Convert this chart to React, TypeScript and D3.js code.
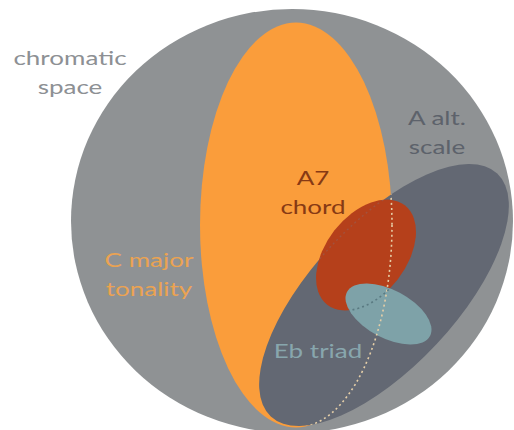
import React from "react";
import * as d3 from "d3";

// sets drawn as ellipses, in diagram units (0..100 across)
const setNames = ["chromatic space", "C major tonality", "A alt. scale", "A7 chord", "Eb triad"];
const setCx = [58.4, 59.2, 76.8, 73.2, 77.7];
const setCy = [44.2, 45.0, 59.0, 51.0, 62.8];
const setRx = [44.2, 19.2, 33.2, 12.6, 9.4];
const setRy = [42.4, 40.5, 14.4, 8.0, 4.8];
const setAngle = [0, 0, -47, -52, 28];

const labelLines = [["chromatic", "space"], ["C major", "tonality"], ["A alt.", "scale"], ["A7", "chord"], ["Eb triad"]];

const width = 514, height = 430;
const fills = ["#8f9294", "#fa9d3b", "#636873", "#b5401b", "#7ea2a8"];
const textColors = ["#8d9094", "#eba352", "#5d626b", "#873a14", "#88a6ad"];
// label anchor (center x, first baseline y) in pixels
const labelPos = [[70, 65], [149, 267], [437, 125], [313, 185], [318, 358]];

const App = () => {
  const x = d3.scaleLinear().domain([0, 100]).range([0, 500]);
  const y = d3.scaleLinear().domain([0, 100]).range([0, 500]);
  const r = (v: number) => x(v) - x(0);

  const ell = (i: number, extra: any = {}) => (
    <ellipse
      cx={0}
      cy={0}
      rx={r(setRx[i])}
      ry={r(setRy[i])}
      transform={`translate(${x(setCx[i])},${y(setCy[i])}) rotate(${setAngle[i]})`}
      {...extra}
    />
  );

  return (
    <svg width={width} height={height} style={{ position: "absolute", left: 0, top: 0, background: "#fff" }}>
      <defs>
        <clipPath id="clipDark">{ell(2)}</clipPath>
        <clipPath id="clipRed">{ell(3)}</clipPath>
        <clipPath id="clipBlue">{ell(4)}</clipPath>
      </defs>
      {setNames.map((d, i) => ell(i, { key: d, fill: fills[i] }))}
      {/* hidden outlines shown as dotted lines */}
      <g clipPath="url(#clipDark)">
        {ell(1, { fill: "none", stroke: "#e6cfa8", strokeWidth: 1.6, strokeDasharray: "2,3" })}
      </g>
      <g clipPath="url(#clipRed)">
        {ell(2, { fill: "none", stroke: "#9b5a4c", strokeWidth: 1.4, strokeDasharray: "2,3", opacity: 0.7 })}
      </g>
      <g clipPath="url(#clipBlue)">
        {ell(3, { fill: "none", stroke: "#5a7a82", strokeWidth: 1.6, strokeDasharray: "2,3" })}
      </g>
      {labelLines.map((lines, i) => (
        <g key={setNames[i]} transform={`translate(${labelPos[i][0]},${labelPos[i][1]}) scale(1.3,1)`}>
          {lines.map((t, j) => (
            <text
              key={t}
              x={0}
              y={j * 29}
              textAnchor="middle"
              fill={textColors[i]}
              style={{ fontFamily: "Lato, 'Open Sans', sans-serif", fontSize: 20, fontWeight: 400 }}
            >
              {t}
            </text>
          ))}
        </g>
      ))}
    </svg>
  );
};

export default App;
